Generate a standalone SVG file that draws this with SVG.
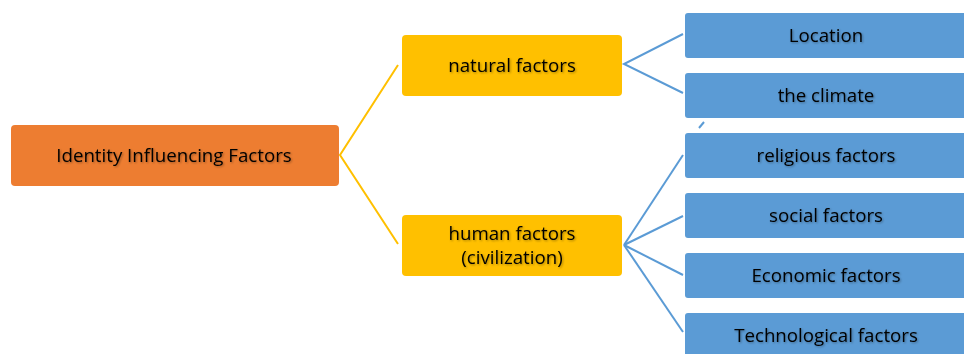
<svg xmlns="http://www.w3.org/2000/svg" width="964" height="354" viewBox="0 0 964 354">
<style>
text{font-family:"Open Sans","Liberation Sans",sans-serif;font-size:18.7px;fill:#000;text-anchor:middle;dominant-baseline:central;filter:url(#ts)}
.root{fill:#ED7D31}
.mid{fill:#FFC000}
.leaf{fill:#5B9BD5}
.cy{stroke:#FFC000;stroke-width:2;fill:none}
.cb{stroke:#5B9BD5;stroke-width:2;fill:none}
</style>
<defs>
<filter id="ts" x="-10%" y="-30%" width="120%" height="160%">
<feDropShadow dx="1" dy="1" stdDeviation="0.8" flood-color="#000" flood-opacity="0.35"/>
</filter>
</defs>
<rect width="964" height="354" fill="#fff"/>
<g id="connectors">
<polyline class="cy" points="398,65 340,155 398,244"/>
<polyline class="cb" points="683,34 624,64 683,93"/>
<line class="cb" x1="624" y1="245" x2="683" y2="155"/>
<line class="cb" x1="624" y1="245" x2="683" y2="216"/>
<line class="cb" x1="624" y1="245" x2="683" y2="275"/>
<line class="cb" x1="624" y1="245" x2="683" y2="332"/>
<line class="cb" x1="699" y1="128" x2="704" y2="122"/>
</g>
<g id="root"><rect class="root" x="11" y="125" width="328" height="61" rx="4"/><text x="174" y="154">Identity Influencing Factors</text></g>
<g id="natural"><rect class="mid" x="402" y="35" width="220" height="61" rx="4"/><text x="512" y="64">natural factors</text></g>
<g id="human"><rect class="mid" x="402" y="215" width="220" height="61" rx="4"/><text x="512" y="232">human factors</text><text x="512" y="256">(civilization)</text></g>
<g id="location"><rect class="leaf" x="685" y="13" width="290" height="45" rx="3"/><text x="826" y="34">Location</text></g>
<g id="climate"><rect class="leaf" x="685" y="73" width="290" height="45" rx="3"/><text x="826" y="94">the climate</text></g>
<g id="religious"><rect class="leaf" x="685" y="133" width="290" height="45" rx="3"/><text x="826" y="154">religious factors</text></g>
<g id="social"><rect class="leaf" x="685" y="193" width="290" height="45" rx="3"/><text x="826" y="214">social factors</text></g>
<g id="economic"><rect class="leaf" x="685" y="253" width="290" height="45" rx="3"/><text x="826" y="274">Economic factors</text></g>
<g id="tech"><rect class="leaf" x="685" y="313" width="290" height="45" rx="3"/><text x="826" y="334">Technological factors</text></g>
</svg>
